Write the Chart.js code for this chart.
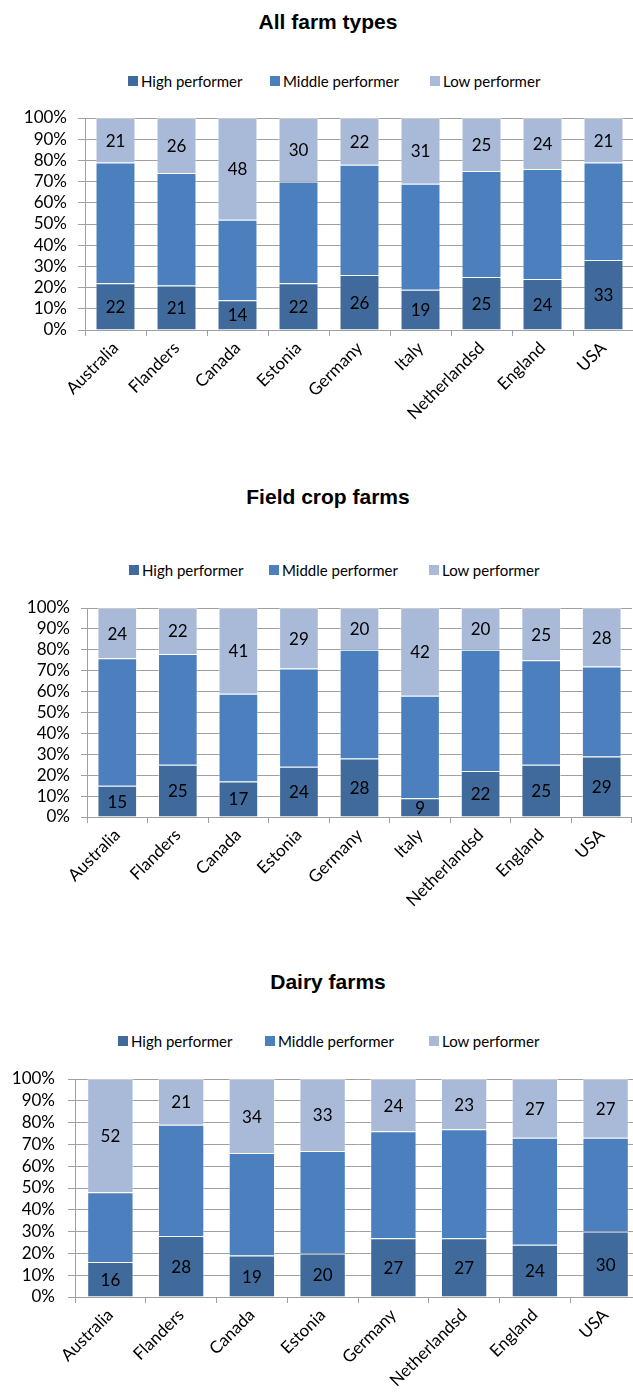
<!DOCTYPE html>
<html>
<head>
<meta charset="utf-8">
<script src="https://cdn.jsdelivr.net/npm/chart.js@4.4.1/dist/chart.umd.min.js"></script>
<style>
  html, body { margin: 0; padding: 0; background: #fff; overflow: hidden; }
  body { width: 633px; height: 1398px; position: relative; }
  .title {
    position: absolute; left: 0; width: 656px; text-align: center;
    font: bold 21px "Liberation Sans", Arial, sans-serif; line-height: 21px; color: #000;
  }
  .legend-item {
    position: absolute; height: 16px; display: flex; align-items: center;
    font: 15px Lato, sans-serif; line-height: 16px; color: #000; white-space: nowrap;
  }
  .legend-item .box { width: 10px; height: 10px; margin-right: 3px; display: inline-block; }
  .plot { position: absolute; left: 0; overflow: hidden; width: 633px; }
  canvas { display: block; }
</style>
</head>
<body>
<div class="title" style="top:11px">All farm types</div>
<div id="legend-all"></div>
<div class="plot" style="top:100px;height:360px"><canvas id="chartAll" width="634" height="360"></canvas></div>

<div class="title" style="top:486px">Field crop farms</div>
<div id="legend-field"></div>
<div class="plot" style="top:590px;height:360px"><canvas id="chartField" width="632" height="360"></canvas></div>

<div class="title" style="top:971px">Dairy farms</div>
<div id="legend-dairy"></div>
<div class="plot" style="top:1060px;height:338px"><canvas id="chartDairy" width="641" height="338"></canvas></div>

<script>
  // categorias
  const countries = ["Australia", "Flanders", "Canada", "Estonia", "Germany", "Italy", "Netherlandsd", "England", "USA"];
  const dairyCountries = ["Australia", "Flanders", "Canada", "Estonia", "Germany", "Netherlandsd", "England", "USA"];
  const seriesNames = ["High performer", "Middle performer", "Low performer"];

  // All farm types (%)
  const allHigh = [22, 21, 14, 22, 26, 19, 25, 24, 33];
  const allMiddle = [57, 53, 38, 48, 52, 50, 50, 52, 46];
  const allLow = [21, 26, 48, 30, 22, 31, 25, 24, 21];

  // Field crop farms (%)
  const fieldHigh = [15, 25, 17, 24, 28, 9, 22, 25, 29];
  const fieldMiddle = [61, 53, 42, 47, 52, 49, 58, 50, 43];
  const fieldLow = [24, 22, 41, 29, 20, 42, 20, 25, 28];

  // Dairy farms (%)
  const dairyHigh = [16, 28, 19, 20, 27, 27, 24, 30];
  const dairyMiddle = [32, 51, 47, 47, 49, 50, 49, 43];
  const dairyLow = [52, 21, 34, 33, 24, 23, 27, 27];

  const yTicks = [0, 10, 20, 30, 40, 50, 60, 70, 80, 90, 100];

  const colors = ["#3f6a9b", "#4b7fbd", "#a9bad9"];
  const gridColor = "#a0a0a0";

  // etiquetas en segmentos High y Low (Middle sin etiqueta)
  const segmentLabels = {
    id: "segmentLabels",
    afterDatasetsDraw(chart) {
      const ctx = chart.ctx;
      ctx.save();
      ctx.font = "17px Lato";
      ctx.fillStyle = "#000";
      ctx.textAlign = "center";
      ctx.textBaseline = "middle";
      [0, 2].forEach((i) => {
        const meta = chart.getDatasetMeta(i);
        meta.data.forEach((bar, j) => {
          const p = bar.getProps(["x", "y", "base"], true);
          ctx.fillText(chart.data.datasets[i].data[j], p.x, (p.y + p.base) / 2 + 1);
        });
      });
      ctx.restore();
    },
  };

  function buildLegend(containerId, top, lefts) {
    const container = document.getElementById(containerId);
    seriesNames.forEach((name, i) => {
      const item = document.createElement("div");
      item.className = "legend-item";
      item.style.top = top + "px";
      item.style.left = lefts[i] + "px";
      const box = document.createElement("span");
      box.className = "box";
      box.style.background = colors[i];
      item.appendChild(box);
      item.appendChild(document.createTextNode(name));
      container.appendChild(item);
    });
  }

  function makeChart(canvasId, labels, high, middle, low, cfg) {
    const ctx = document.getElementById(canvasId).getContext("2d");
    return new Chart(ctx, {
      type: "bar",
      data: {
        labels: labels,
        datasets: [high, middle, low].map((values, i) => ({
          label: seriesNames[i],
          data: values,
          backgroundColor: colors[i],
          borderColor: "rgba(255,255,255,0.45)",
          borderWidth: 1,
          barPercentage: 0.655,
          categoryPercentage: 1,
        })),
      },
      options: {
        responsive: false,
        animation: false,
        devicePixelRatio: 1,
        layout: { padding: { top: cfg.padTop, left: 0, right: 0, bottom: 0 } },
        plugins: {
          legend: { display: false },
          title: { display: false },
          tooltip: { enabled: false },
        },
        scales: {
          x: {
            stacked: true,
            offset: true,
            grid: {
              display: true,
              drawOnChartArea: false,
              offset: true,
              color: gridColor,
              tickLength: 6,
            },
            border: { color: gridColor },
            ticks: {
              autoSkip: false,
              maxRotation: 45,
              minRotation: 45,
              padding: 2,
              color: "#000",
              font: { family: "Lato", size: 17 },
            },
            afterFit: (scale) => { scale.height = cfg.xHeight; },
          },
          y: {
            stacked: true,
            min: 0,
            max: 100,
            afterBuildTicks: (scale) => { scale.ticks = yTicks.map((v) => ({ value: v })); },
            grid: { color: gridColor, tickLength: cfg.tickLen },
            border: { color: gridColor },
            ticks: {
              autoSkip: false,
              padding: cfg.tickPad,
              color: "#000",
              font: { family: "Lato", size: 17 },
              callback: (v) => v + "%",
            },
            afterFit: (scale) => {
              scale.width = cfg.yWidth;
              scale.paddingTop = 0;
              scale.paddingBottom = 0;
            },
          },
        },
      },
      plugins: [segmentLabels],
    });
  }

  buildLegend("legend-all", 73, [128, 270, 430]);
  buildLegend("legend-field", 562, [129, 269, 429]);
  buildLegend("legend-dairy", 1033, [118, 265, 429]);

  makeChart("chartAll", countries, allHigh, allMiddle, allLow,
    { padTop: 18, xHeight: 130, yWidth: 85, tickLen: 7, tickPad: 11 });
  makeChart("chartField", countries, fieldHigh, fieldMiddle, fieldLow,
    { padTop: 18, xHeight: 133, yWidth: 87, tickLen: 6, tickPad: 11 });
  makeChart("chartDairy", dairyCountries, dairyHigh, dairyMiddle, dairyLow,
    { padTop: 19, xHeight: 101, yWidth: 75, tickLen: 7, tickPad: 13 });
</script>
</body>
</html>
